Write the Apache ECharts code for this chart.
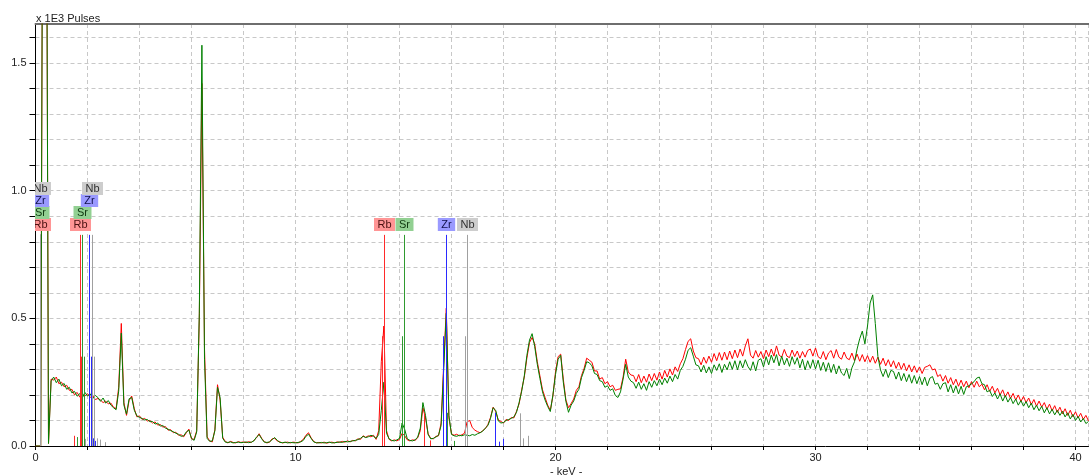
<!DOCTYPE html>
<html><head><meta charset="utf-8">
<script src="https://cdn.jsdelivr.net/npm/echarts@6/dist/echarts.min.js"></script>
<style>html,body{margin:0;padding:0;background:#fff;}#c{width:1089px;height:475px;}</style>
</head><body><div id="c"></div>
<script>
// Spectrum channels: energy of channel i = CHANNEL_START_KEV + i * CHANNEL_WIDTH_KEV
const CHANNEL_START_KEV = 0;
const CHANNEL_WIDTH_KEV = 0.1;

// Counts (pulses), green spectrum
const greenCounts = [
0,0,0,3000,3000,10,255,270,248,262,
236,245,222,230,208,214,195,205,188,210,
196,205,185,198,190,175,188,168,178,160,
150,142,215,442,160,125,185,190,140,118,
112,108,102,104,95,96,86,90,78,80,
70,66,60,56,50,46,38,40,55,62,
30,22,55,520,1570,340,30,18,20,60,
230,190,30,15,14,16,12,14,15,13,
14,16,13,15,20,35,45,28,15,14,
16,25,33,22,14,13,15,12,14,13,
12,14,16,22,38,46,30,16,13,12,
14,12,13,15,12,13,14,16,14,18,
16,18,20,22,25,30,38,33,36,42,
38,30,45,140,250,50,28,22,20,24,
30,90,65,28,22,20,24,35,70,170,
120,45,28,30,35,42,80,300,520,120,
45,40,38,42,40,44,42,40,45,42,
48,52,58,70,80,108,150,140,98,90,
92,100,104,108,114,132,170,215,275,355,
415,440,390,320,265,212,180,155,135,200,
280,340,355,250,175,132,160,176,206,222,
268,296,330,326,314,284,280,256,252,230,
236,218,224,198,190,212,262,320,270,254,
248,226,250,222,244,218,252,230,256,236,
262,240,266,246,274,252,280,262,296,312,
340,375,385,352,318,314,290,316,286,310,
284,318,296,322,288,320,298,330,300,334,
298,334,306,338,312,296,330,294,336,342,
310,350,318,356,326,358,314,352,318,344,
312,350,320,346,306,340,298,334,304,338,
302,336,296,328,292,326,288,320,282,314,
286,276,304,264,306,330,380,420,450,400,
470,560,592,480,350,298,272,300,268,296,
292,262,290,256,284,252,280,246,276,244,
272,240,270,236,266,272,242,246,222,244,
248,212,240,208,236,204,234,202,232,236,
244,252,266,270,244,240,212,218,194,208,
184,204,176,198,172,190,166,184,160,178,
156,174,150,168,142,160,138,156,130,150,
126,144,122,140,120,136,114,130,106,124,
100,116,94,108,88,96
];

// Counts (pulses), red spectrum
const redCounts = [
0,0,0,3000,3000,10,262,258,270,244,
250,232,238,218,222,200,210,192,202,196,
205,190,198,182,186,180,170,176,165,168,
152,146,230,480,170,120,178,196,146,114,
118,104,108,98,100,90,94,82,84,74,
76,62,64,52,54,42,44,36,52,66,
28,26,60,500,1420,380,36,20,16,64,
240,180,34,18,12,18,14,12,17,14,
16,13,17,14,22,32,48,30,17,12,
15,28,30,20,16,12,14,15,12,15,
14,12,18,26,42,52,32,18,12,14,
12,15,11,14,15,12,16,14,18,15,
20,16,22,20,28,26,40,34,40,36,
42,26,60,330,470,60,26,20,24,20,
26,50,40,24,20,24,22,32,60,150,
110,48,30,28,38,40,90,320,540,110,
48,42,46,40,44,50,95,100,72,62,
56,52,60,68,84,112,152,135,102,96,
90,104,100,112,110,136,165,220,270,345,
405,425,400,330,275,220,190,160,140,195,
290,350,360,262,180,150,166,184,218,232,
276,304,344,336,328,294,294,262,268,244,
252,232,238,218,222,224,270,340,290,278,
276,252,280,248,274,250,282,256,284,258,
290,262,296,270,302,278,310,292,322,342,
378,410,420,372,346,342,318,348,324,352,
328,362,334,366,336,368,338,372,342,376,
346,380,352,392,420,356,344,374,348,370,
342,376,350,380,352,392,356,348,378,352,
346,376,350,372,344,370,348,374,380,352,
384,350,342,370,338,364,374,344,378,348,
340,368,344,338,364,334,360,332,358,330,
354,328,352,324,348,320,344,314,338,310,
334,304,328,300,324,294,318,290,314,288,
310,284,308,312,318,298,302,272,280,254,
276,246,268,240,262,234,258,232,254,228,
252,230,254,232,242,220,240,214,234,208,
226,200,220,192,212,186,206,180,200,174,
194,170,188,162,182,156,176,152,170,144,
164,138,158,132,152,126,146,120,140,114,
134,110,128,104,120,98
];

// Axis ticks
const xTickLabels = [0, 10, 20, 30, 40];
const yTickLabels = [0, 500, 1000, 1500]; // pulses; shown as x 1E3

// Element marker lines: [element, keV, height in pulses]
const labelledLines = [
  ['Rb', 0.17, 827], ['Sr', 0.17, 827], ['Zr', 0.17, 827], ['Nb', 0.18, 827],
  ['Rb', 1.694, 827], ['Sr', 1.806, 827], ['Zr', 2.042, 827], ['Nb', 2.166, 827],
  ['Rb', 13.395, 827], ['Sr', 14.165, 827], ['Zr', 15.775, 827], ['Nb', 16.615, 827]
];
const minorLines = [
  ['Rb', 1.482, 40], ['Sr', 1.582, 35], ['Zr', 1.792, 30], ['Nb', 1.902, 28],
  ['Rb', 1.752, 350], ['Sr', 1.872, 350], ['Zr', 2.124, 350], ['Nb', 2.257, 350],
  ['Zr', 2.219, 30], ['Zr', 2.303, 20], ['Nb', 2.367, 30], ['Nb', 2.462, 25], ['Nb', 2.68, 15],
  ['Rb', 13.336, 430], ['Sr', 14.098, 430], ['Zr', 15.691, 430], ['Nb', 16.521, 430],
  ['Rb', 14.961, 130], ['Sr', 15.836, 130], ['Zr', 17.668, 130], ['Nb', 18.623, 128],
  ['Rb', 15.185, 22], ['Sr', 16.085, 20], ['Zr', 17.83, 17], ['Zr', 17.97, 28],
  ['Nb', 18.75, 30], ['Nb', 18.95, 40]
];

// ---- styles ----
const elementStyle = {
  Rb: { line: '#ff2a2a', box: '#ff9595', text: '#4a1010' },
  Sr: { line: '#2f9a2f', box: '#92d092', text: '#103a10' },
  Zr: { line: '#2a2aff', box: '#9a9aff', text: '#10104a' },
  Nb: { line: '#a0a0a0', box: '#cdcdcd', text: '#303030' }
};
const FONT = '"Liberation Sans", Arial, Helvetica, sans-serif';

const toSeries = arr => arr.map((v, i) => [+(CHANNEL_START_KEV + i * CHANNEL_WIDTH_KEV).toFixed(2), v]);

const markerData = minorLines.map(d => [d[0], d[1], d[2], 0])
  .concat(labelledLines.map(d => [d[0], d[1], d[2], 1]));

function labelRows(api) {
  const rows = {};
  const placed = [];
  const idx = markerData.map((d, i) => i).filter(i => markerData[i][3])
    .sort((a, b) => (markerData[a][1] - markerData[b][1]) || (a - b));
  idx.forEach(i => {
    const x = api.coord([markerData[i][1], 0])[0];
    let r = 0;
    while (placed.some(p => p.row === r && Math.abs(p.x - x) < 16)) r++;
    placed.push({ x, row: r });
    rows[i] = r;
  });
  return rows;
}

function renderMarker(params, api) {
  const d = markerData[params.dataIndex];
  const p0 = api.coord([api.value(0), 0]);
  const p1 = api.coord([api.value(0), api.value(1)]);
  const x = Math.round(p0[0]) + 0.5;
  const st = elementStyle[d[0]];
  const children = [{
    type: 'line',
    shape: { x1: x, y1: p0[1], x2: x, y2: p1[1] },
    style: { stroke: st.line, lineWidth: 1 }
  }];
  if (d[3]) {
    const row = labelRows(api)[params.dataIndex];
    children.push({
      type: 'text',
      style: {
        text: d[0], x: x, y: Math.round(p1[1]) - 4 - row * 12,
        align: 'center', verticalAlign: 'bottom',
        font: '11px ' + FONT, fill: st.text,
        backgroundColor: st.box, padding: [1, 3.5, 1, 3.5], lineHeight: 11
      }
    });
  }
  return { type: 'group', children };
}

const chart = echarts.init(document.getElementById('c'), null, { renderer: 'canvas' });
chart.setOption({
  animation: false,
  backgroundColor: '#ffffff',
  grid: { left: 35.5, right: 0.5, top: 24, bottom: 29, containLabel: false },
  xAxis: [{
    type: 'value', min: 0, max: 40.5, interval: 2,
    axisLine: { show: true, onZero: false, lineStyle: { color: '#000', width: 1 } },
    axisTick: { show: true, length: 4, lineStyle: { color: '#000' } },
    axisLabel: {
      margin: 6, color: '#222', fontSize: 11, fontFamily: FONT, showMaxLabel: false,
      formatter: v => (xTickLabels.indexOf(v) >= 0 ? String(v) : '')
    },
    splitLine: { show: true, lineStyle: { color: '#c8c8c8', type: [4, 3], width: 1 } }
  }, {
    type: 'value', position: 'top', min: 0, max: 40.5,
    axisLine: { show: true, onZero: false, lineStyle: { color: '#6e6e6e', width: 2 } },
    axisTick: { show: false }, axisLabel: { show: false }, splitLine: { show: false }
  }],
  yAxis: {
    type: 'value', min: 0, max: 1653, interval: 100,
    axisLine: { show: true, lineStyle: { color: '#000', width: 1 } },
    axisTick: { show: true, length: 6, lineStyle: { color: '#000' } },
    axisLabel: {
      margin: 9, color: '#222', fontSize: 11, fontFamily: FONT, showMaxLabel: false,
      formatter: v => (yTickLabels.indexOf(v) >= 0 ? (v / 1000).toFixed(1) : '')
    },
    splitLine: { show: true, lineStyle: { color: '#c8c8c8', type: [4, 3], width: 1 } }
  },
  graphic: [
    { type: 'text', left: 36, top: 13, style: { text: 'x 1E3 Pulses', font: '11px ' + FONT, fill: '#222' } },
    { type: 'text', left: 550, top: 466, style: { text: '- keV -', font: '11px ' + FONT, fill: '#222' } }
  ],
  series: [
    {
      name: 'red', type: 'line', data: toSeries(redCounts), showSymbol: false, clip: true,
      lineStyle: { color: '#ff0000', width: 1 }, silent: true, z: 2
    },
    {
      name: 'green', type: 'line', data: toSeries(greenCounts), showSymbol: false, clip: true,
      lineStyle: { color: '#008000', width: 1 }, silent: true, z: 3
    },
    {
      name: 'markers', type: 'custom', clip: true, silent: true, z: 4,
      renderItem: renderMarker,
      encode: { x: 0, y: 1 },
      data: markerData.map(d => [d[1], d[2]])
    }
  ]
});
</script>
</body></html>
